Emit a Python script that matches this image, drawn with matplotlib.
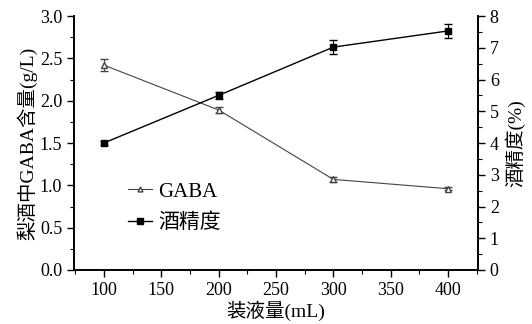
import matplotlib
matplotlib.use("Agg")
import matplotlib.pyplot as plt
from matplotlib.ticker import MultipleLocator
from matplotlib.lines import Line2D

volume = [100, 200, 300, 400]
gaba = [2.42, 1.89, 1.07, 0.96]
gaba_err = [0.07, 0.04, 0.03, 0.02]
alcohol = [4.0, 5.5, 7.02, 7.53]
alcohol_err = [0.05, 0.12, 0.22, 0.22]

fam = ['Liberation Serif', 'Noto Sans CJK SC']
plt.rcParams['font.family'] = fam
plt.rcParams['font.size'] = 13

fig = plt.figure(figsize=(5.32, 3.24), dpi=100)
ax = fig.add_axes([74/532, 1-270/324, (478-74)/532, (270-16)/324])
ax2 = ax.twinx()

ax.errorbar(volume, gaba, yerr=gaba_err, color='#444444', lw=0.8, marker='^',
            ms=4, mfc='white', mec='#444444', capsize=3, elinewidth=0.8)
ax2.errorbar(volume, alcohol, yerr=alcohol_err, color='black', lw=1.0, marker='s',
             ms=5, mfc='black', mec='black', capsize=3, elinewidth=0.8)

ax.set_xlim(74, 426)
ax.set_ylim(0, 3.0)
ax2.set_ylim(0, 8)
ax.xaxis.set_major_locator(MultipleLocator(50))
ax.xaxis.set_minor_locator(MultipleLocator(25))
ax.yaxis.set_major_locator(MultipleLocator(0.5))
ax.yaxis.set_minor_locator(MultipleLocator(0.25))
ax2.yaxis.set_major_locator(MultipleLocator(1))
ax2.yaxis.set_minor_locator(MultipleLocator(0.5))
ax.yaxis.set_major_formatter(matplotlib.ticker.FormatStrFormatter('%.1f'))

for a in (ax, ax2):
    a.spines['top'].set_visible(False)
    for s in a.spines.values():
        s.set_linewidth(1.2)
    a.tick_params(which='major', direction='out', length=5, width=1.0, labelsize=13)
    a.tick_params(which='minor', direction='out', length=3, width=0.8)

ax.set_xlabel('装液量(mL)', fontsize=14, labelpad=1)
ax.set_ylabel('梨酒中GABA含量(g/L)', fontsize=14, labelpad=2)
ax2.set_ylabel('酒精度(%)', fontsize=14, labelpad=4)

h1 = Line2D([], [], color='#444444', lw=0.8, marker='^', ms=3.5, mfc='white', mec='#444444')
h2 = Line2D([], [], color='black', lw=1.0, marker='s', ms=4.5, mfc='black', mec='black')
leg = ax.legend([h1, h2], ['GABA', '酒精度'], loc='center left', bbox_to_anchor=(0.134, 0.246),
                frameon=False, fontsize=15, handlelength=1.15, handletextpad=0.3,
                labelspacing=0.55, borderpad=0, borderaxespad=0)

fig.savefig('out.png', dpi=100)
